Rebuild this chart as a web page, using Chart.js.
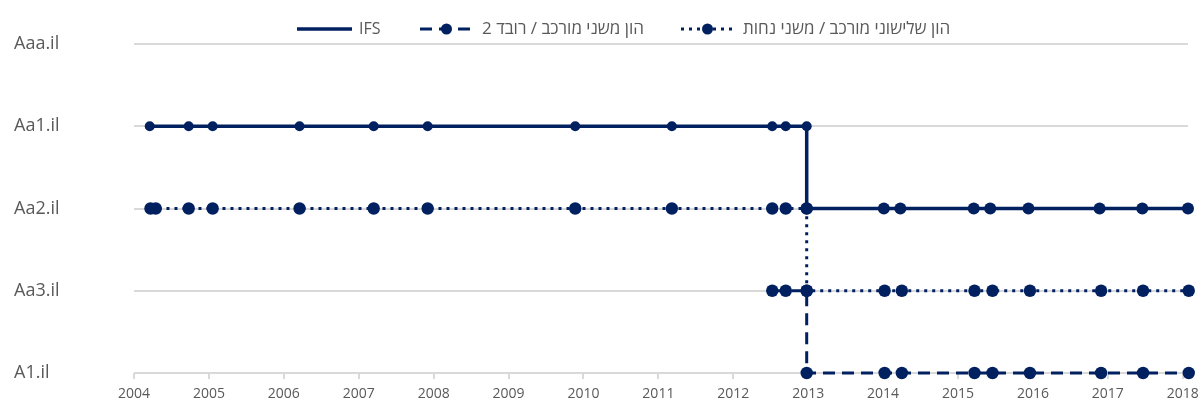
<!DOCTYPE html>
<html>
<head>
<meta charset="utf-8">
<script src="https://cdn.jsdelivr.net/npm/chart.js@4.4.1/dist/chart.umd.min.js"></script>
<style>
  html, body { margin: 0; padding: 0; background: #ffffff; }
  #wrap { width: 1199px; height: 401px; position: relative; }
  canvas { display: block; }
</style>
</head>
<body>
<div id="wrap"><canvas id="c" width="1199" height="401"></canvas></div>
<script>
// ---- Data ----
const ratings = ['Aaa.il', 'Aa1.il', 'Aa2.il', 'Aa3.il', 'A1.il'];
const yearTicks = [2004, 2005, 2006, 2007, 2008, 2009, 2010, 2011, 2012, 2013, 2014, 2015, 2016, 2017, 2018];
const seriesNames = ['IFS', 'הון משני מורכב / רובד 2', 'הון שלישוני מורכב / משני נחות'];

const ifsDates = [2004.21, 2004.73, 2005.05, 2006.21, 2007.20, 2007.92, 2009.89, 2011.18, 2012.52, 2012.70, 2012.98,
                  2012.98, 2014.01, 2014.23, 2015.21, 2015.43, 2015.94, 2016.89, 2017.46, 2018.07];
const ifsRatings = ['Aa1.il', 'Aa1.il', 'Aa1.il', 'Aa1.il', 'Aa1.il', 'Aa1.il', 'Aa1.il', 'Aa1.il', 'Aa1.il', 'Aa1.il', 'Aa1.il',
                    'Aa2.il', 'Aa2.il', 'Aa2.il', 'Aa2.il', 'Aa2.il', 'Aa2.il', 'Aa2.il', 'Aa2.il', 'Aa2.il'];

const tier2Dates = [2012.52, 2012.70, 2012.98,
                    2012.98, 2014.02, 2014.25, 2015.22, 2015.46, 2015.96, 2016.91, 2017.47, 2018.08];
const tier2Ratings = ['Aa3.il', 'Aa3.il', 'Aa3.il',
                      'A1.il', 'A1.il', 'A1.il', 'A1.il', 'A1.il', 'A1.il', 'A1.il', 'A1.il', 'A1.il'];

const tier3Dates = [2004.22, 2004.29, 2004.73, 2005.05, 2006.21, 2007.20, 2007.92, 2009.89, 2011.18, 2012.52, 2012.70, 2012.98,
                    2012.98, 2014.02, 2014.25, 2015.22, 2015.46, 2015.96, 2016.91, 2017.47, 2018.08];
const tier3Ratings = ['Aa2.il', 'Aa2.il', 'Aa2.il', 'Aa2.il', 'Aa2.il', 'Aa2.il', 'Aa2.il', 'Aa2.il', 'Aa2.il', 'Aa2.il', 'Aa2.il', 'Aa2.il',
                      'Aa3.il', 'Aa3.il', 'Aa3.il', 'Aa3.il', 'Aa3.il', 'Aa3.il', 'Aa3.il', 'Aa3.il', 'Aa3.il'];

// ---- Helpers ----
const toPoints = (dates, rs) => dates.map((d, i) => ({ x: d, y: ratings.indexOf(rs[i]) }));

const NAVY = '#002060';
const GRAY_TEXT = '#595959';
const GRID = '#d9d9d9';
const FONT = "'Open Sans', 'DejaVu Sans', sans-serif";

// legend layout (style only)
const LEGEND_X = [297, 420, 681];
const LEGEND_Y = 29;
const LEGEND_SYM_W = 55;
const LEGEND_GAP = 7;

const legendPlugin = {
  id: 'customLegend',
  afterDraw(chart) {
    const ctx = chart.ctx;
    const items = chart.data.datasets;
    ctx.save();
    items.forEach((d, i) => {
      const x = LEGEND_X[i];
      const y = LEGEND_Y;
      ctx.strokeStyle = d.borderColor;
      ctx.lineWidth = d.borderWidth;
      ctx.setLineDash(d.borderDash || []);
      ctx.beginPath();
      ctx.moveTo(x, y);
      ctx.lineTo(x + LEGEND_SYM_W, y);
      ctx.stroke();
      ctx.setLineDash([]);
      if (d.legendMarker) {
        ctx.fillStyle = d.pointBackgroundColor;
        ctx.beginPath();
        ctx.arc(x + LEGEND_SYM_W / 2 - 1, y, 5.5, 0, Math.PI * 2);
        ctx.fill();
      }
      ctx.font = (i === 0 ? '16px ' : '17px ') + FONT;
      ctx.fillStyle = GRAY_TEXT;
      ctx.textBaseline = 'middle';
      ctx.textAlign = 'left';
      ctx.fillText(d.label, x + LEGEND_SYM_W + LEGEND_GAP, y);
    });
    ctx.restore();
  }
};

new Chart(document.getElementById('c'), {
  type: 'line',
  data: {
    datasets: [
      {
        label: seriesNames[0],
        data: toPoints(ifsDates, ifsRatings),
        borderColor: NAVY,
        backgroundColor: NAVY,
        pointBackgroundColor: NAVY,
        borderWidth: 3.5,
        pointRadius: ctx => (ctx.raw && ctx.raw.y === 1 ? 5 : 6),
        pointHoverRadius: ctx => (ctx.raw && ctx.raw.y === 1 ? 5 : 6),
        pointBorderWidth: 0,
        tension: 0,
        fill: false,
        clip: false,
        legendMarker: false
      },
      {
        label: seriesNames[1],
        data: toPoints(tier2Dates, tier2Ratings),
        borderColor: NAVY,
        backgroundColor: NAVY,
        pointBackgroundColor: NAVY,
        borderWidth: 3,
        borderDash: [12, 7],
        pointRadius: 6.2,
        pointHoverRadius: 6.2,
        pointBorderWidth: 0,
        tension: 0,
        fill: false,
        clip: false,
        legendMarker: true
      },
      {
        label: seriesNames[2],
        data: toPoints(tier3Dates, tier3Ratings),
        borderColor: NAVY,
        backgroundColor: NAVY,
        pointBackgroundColor: NAVY,
        borderWidth: 3,
        borderDash: [3, 5],
        pointRadius: 6.2,
        pointHoverRadius: 6.2,
        pointBorderWidth: 0,
        tension: 0,
        fill: false,
        clip: false,
        legendMarker: true
      }
    ]
  },
  options: {
    responsive: false,
    animation: false,
    devicePixelRatio: 1,
    layout: { padding: { top: 44, left: 14, right: 11, bottom: 0 } },
    plugins: {
      legend: { display: false },
      tooltip: { enabled: false },
      title: { display: false }
    },
    scales: {
      x: {
        type: 'linear',
        min: yearTicks[0],
        max: 2018.07,
        afterBuildTicks: axis => { axis.ticks = yearTicks.map(v => ({ value: v })); },
        afterFit: scale => { scale.height = 28; scale.paddingLeft = 0; scale.paddingRight = 0; },
        grid: { drawOnChartArea: false, drawTicks: true, tickLength: 6, color: GRID, lineWidth: 2 },
        border: { display: false },
        ticks: {
          color: GRAY_TEXT,
          font: { family: FONT, size: 14 },
          padding: 7,
          maxRotation: 0,
          autoSkip: false,
          callback: v => String(v)
        }
      },
      y: {
        type: 'linear',
        reverse: true,
        min: 0,
        max: ratings.length - 1,
        afterBuildTicks: axis => { axis.ticks = ratings.map((r, i) => ({ value: i })); },
        afterFit: scale => { scale.width = 120; scale.paddingTop = 0; scale.paddingBottom = 0; },
        grid: { color: GRID, lineWidth: 2, drawTicks: false },
        border: { display: false },
        ticks: {
          color: GRAY_TEXT,
          font: { family: FONT, size: 18 },
          crossAlign: 'far',
          padding: 0,
          autoSkip: false,
          callback: v => ratings[v]
        }
      }
    }
  },
  plugins: [legendPlugin]
});
</script>
</body>
</html>
